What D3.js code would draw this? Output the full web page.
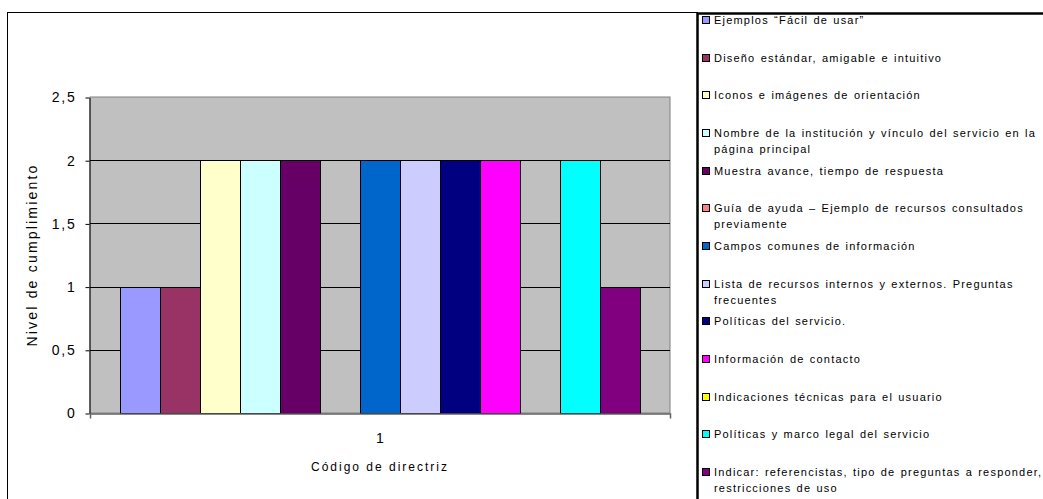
<!DOCTYPE html>
<meta charset="utf-8">
<style>
  body { margin: 0; background: #fff; }
  text { font-family: Arial, "Liberation Sans", sans-serif; fill: #000; }
</style>
<svg width="1043" height="499"></svg>
<script src="https://d3js.org/d3.v7.min.js"></script>
<script>

    var categories = ["1"];

    var seriesNames = [
        "Ejemplos \u201cFácil de usar\u201d",
        "Diseño estándar, amigable e intuitivo",
        "Iconos e imágenes de orientación",
        "Nombre de la institución y vínculo del servicio en la\npágina principal",
        "Muestra avance, tiempo de respuesta",
        "Guía de ayuda \u2013 Ejemplo de recursos consultados\npreviamente",
        "Campos comunes de información",
        "Lista de recursos internos y externos. Preguntas\nfrecuentes",
        "Políticas del servicio.",
        "Información de contacto",
        "Indicaciones técnicas para el usuario",
        "Políticas y marco legal del servicio",
        "Indicar: referencistas, tipo de preguntas a responder,\nrestricciones de uso"
    ];

    var seriesValues = [1, 1, 2, 2, 2, 0, 2, 2, 2, 2, 0, 2, 1];

    var seriesColors = ["#9999FF", "#993366", "#FFFFCC", "#CCFFFF", "#660066", "#FF8080",
        "#0066CC", "#CCCCFF", "#000080", "#FF00FF", "#FFFF00", "#00FFFF", "#800080"];

    var yTicks = [0, 0.5, 1, 1.5, 2, 2.5];

    var svg = d3.select("svg"),
        plot = {left: 90, top: 97, right: 670, bottom: 413};

    // chart area border
    svg.append("rect")
        .attr("x", 7.5).attr("y", 12.5)
        .attr("width", 690).attr("height", 500)
        .attr("fill", "#fff").attr("stroke", "#000");

    var y = d3.scaleLinear().domain([0, 2.5]).range([plot.bottom, plot.top]);
    var x0 = d3.scaleBand().domain(categories).range([plot.left, plot.right]);
    var barW = x0.bandwidth() / (seriesValues.length + 1.5);
    var x1 = d3.scaleBand().domain(d3.range(seriesValues.length))
        .range([barW * 0.75, x0.bandwidth() - barW * 0.75]);

    // plot area
    svg.append("rect")
        .attr("x", plot.left).attr("y", plot.top)
        .attr("width", plot.right - plot.left).attr("height", plot.bottom - plot.top)
        .attr("fill", "#C0C0C0").attr("stroke", "#808080");

    // gridlines
    svg.append("g").selectAll("line")
        .data(yTicks.filter(function(d) { return d > 0 && d < 2.5; }))
        .enter().append("line")
        .attr("x1", plot.left).attr("x2", plot.right)
        .attr("y1", function(d) { return Math.round(y(d)) + 0.5; })
        .attr("y2", function(d) { return Math.round(y(d)) + 0.5; })
        .attr("stroke", "#000");

    // bars
    var fmt = function(d) { return String(d).replace(".", ","); };
    var cat = svg.append("g").selectAll("g")
        .data(categories)
        .enter().append("g")
        .attr("transform", function(d) { return "translate(" + x0(d) + ",0)"; });

    cat.selectAll("rect")
        .data(seriesValues.map(function(v, i) { return {i: i, v: v}; }).filter(function(d) { return d.v > 0; }))
        .enter().append("rect")
        .attr("x", function(d) { return x1(d.i) + 0.5; })
        .attr("y", function(d) { return Math.round(y(d.v)) + 0.5; })
        .attr("width", x1.bandwidth())
        .attr("height", function(d) { return Math.round(y(0)) - Math.round(y(d.v)); })
        .attr("fill", function(d) { return seriesColors[d.i]; })
        .attr("stroke", "#000");

    // y axis
    var yAxis = svg.append("g")
        .attr("transform", "translate(" + (plot.left - 0.5) + ",0.5)")
        .call(d3.axisLeft(y).tickValues(yTicks).tickFormat(fmt).tickSize(4).tickSizeOuter(0).tickPadding(9));
    yAxis.select(".domain").attr("stroke", "#000");
    yAxis.selectAll("text").style("font-size", "14px").style("letter-spacing", "1.8px")
        .attr("font-family", null);

    // x axis
    var xAxis = svg.append("g")
        .attr("transform", "translate(0," + (plot.bottom + 0.5) + ")")
        .call(d3.axisBottom(x0).tickSize(0).tickSizeOuter(5).tickPadding(20));
    xAxis.select(".domain").attr("stroke", "#606060").attr("stroke-width", 1.5);
    xAxis.selectAll("text").style("font-size", "14px").attr("font-family", null);

    svg.append("text")
        .attr("x", (plot.left + plot.right) / 2).attr("y", 471)
        .attr("text-anchor", "middle")
        .style("font-size", "12px").style("letter-spacing", "2px")
        .text("Código de directriz");

    svg.append("text")
        .attr("transform", "translate(37," + ((plot.top + plot.bottom) / 2) + ") rotate(-90)")
        .attr("text-anchor", "middle")
        .style("font-size", "14px").style("letter-spacing", "2.2px")
        .text("Nivel de cumplimiento");

    // legend
    svg.append("rect")
        .attr("x", 697.5).attr("y", 13.5)
        .attr("width", 400).attr("height", 500)
        .attr("fill", "#fff").attr("stroke", "#000").attr("stroke-width", 2.5);

    var ly = d3.scalePoint().domain(d3.range(seriesNames.length)).range([20, 472]);
    var items = svg.append("g").selectAll("g")
        .data(seriesNames)
        .enter().append("g")
        .attr("transform", function(d, i) { return "translate(702," + Math.round(ly(i)) + ")"; });

    items.append("rect")
        .attr("x", 0.5).attr("y", -3.5)
        .attr("width", 7).attr("height", 7)
        .attr("fill", function(d, i) { return seriesColors[i]; })
        .attr("stroke", "#000");

    items.append("text")
        .attr("x", 12)
        .style("font-size", "11px").style("letter-spacing", "1.2px").style("word-spacing", "1px")
        .selectAll("tspan")
        .data(function(d) { return d.split("\n"); })
        .enter().append("tspan")
        .attr("x", 12)
        .attr("dy", function(d, i) { return i === 0 ? "0.35em" : "16px"; })
        .text(function(d) { return d; });

</script>
